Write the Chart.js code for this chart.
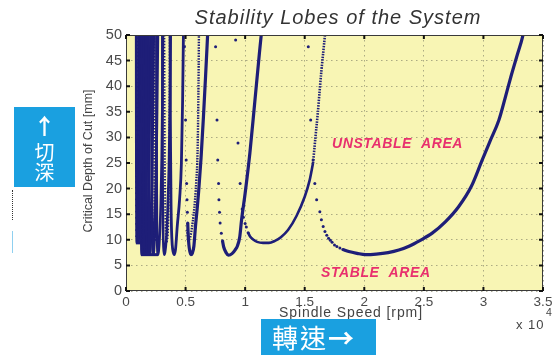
<!DOCTYPE html>
<html><head><meta charset="utf-8">
<script src="https://cdn.jsdelivr.net/npm/chart.js@4.4.1/dist/chart.umd.min.js"></script>
<style>
html,body{margin:0;padding:0;background:#fff;}
#wrap{position:relative;width:557px;height:360px;overflow:hidden;font-family:'Liberation Sans',Arial,sans-serif;}
#c{position:absolute;left:0;top:0;}
.t{position:absolute;white-space:nowrap;line-height:1;}
.box{position:absolute;background:#1aa0e0;color:#fff;font-family:'Noto Sans CJK TC','Noto Sans CJK SC',sans-serif;}
</style></head><body>
<div id="wrap">
<canvas id="c" width="557" height="360"></canvas>
<div class="t" id="title" style="left:338px;top:7px;transform:translateX(-50%);font-style:italic;font-size:20px;letter-spacing:1px;color:#333;">Stability Lobes of the System</div>
<div class="t" style="left:351px;top:305px;transform:translateX(-50%);font-size:14px;letter-spacing:0.9px;color:#444;">Spindle Speed [rpm]</div>
<div class="t" style="left:87.5px;top:160.5px;transform:translate(-50%,-50%) rotate(-90deg);font-size:12.5px;color:#444;">Critical Depth of Cut [mm]</div>
<div class="t" style="left:516px;top:318px;font-size:13px;letter-spacing:1px;color:#444;">x 10</div>
<div class="t" style="left:546px;top:307px;font-size:10.5px;color:#444;">4</div>
<div class="t" style="left:332px;top:136px;font-size:14px;font-weight:bold;font-style:italic;letter-spacing:0.6px;color:#e8306e;">UNSTABLE&nbsp;&nbsp;AREA</div>
<div class="t" style="left:321px;top:265px;font-size:14px;font-weight:bold;font-style:italic;letter-spacing:0.6px;color:#e8306e;">STABLE&nbsp;&nbsp;AREA</div>
<div class="box" style="left:14px;top:107px;width:61px;height:80px;">
  <div class="t" style="left:0;width:61px;text-align:center;top:6px;font-size:22px;font-weight:bold;">↑</div>
  <div class="t" style="left:0;width:61px;text-align:center;top:35px;font-size:20px;">切</div>
  <div class="t" style="left:0;width:61px;text-align:center;top:55px;font-size:20px;">深</div>
</div>
<div class="box" style="left:261px;top:319px;width:115px;height:36px;">
  <div class="t" style="left:11px;top:5px;font-size:26px;letter-spacing:2px;">轉速<b>→</b></div>
</div>
<div style="position:absolute;left:12px;top:190px;width:0;height:30px;border-left:1px dotted #333;"></div>
<div style="position:absolute;left:12px;top:231px;width:1px;height:22px;background:#8fd0f0;"></div>
</div>
<script>
// ---- data (x in units of 10^4 rpm, y in mm) ----
const xTicks = [0, 0.5, 1, 1.5, 2, 2.5, 3, 3.5];
const yTicks = [0, 5, 10, 15, 20, 25, 30, 35, 40, 45, 50];

// lobe k=0 (mode A)
const lobeA1Dots = [[1.53,47.7],[1.55,33.4],[1.57,25.6],[1.585,21],[1.6,17.8],[1.627,15.5],[1.64,13.9],[1.655,12.6],[1.67,11.6],[1.685,10.9],[1.7,10.3],[1.715,9.9],[1.73,9.5],[1.75,9.0],[1.77,8.7],[1.795,8.4],[1.82,8.1]];
const lobeA1Line = [[1.82,8.1],[1.87,7.7],[1.94,7.35],[2.01,7.1],[2.1,7.2],[2.2,7.5],[2.29,8.0],[2.38,8.8],[2.47,9.9],[2.57,11.3],[2.68,13.5],[2.79,16.4],[2.9,20.5],[2.99,25.6],[3.06,29.5],[3.13,33.4],[3.18,37.5],[3.23,41.8],[3.28,45.8],[3.33,49.8],[3.34,51]];
// lobe k=0 (mode B)
const lobeB1Dots = [[0.92,49],[0.94,28.9],[0.958,21],[0.975,16],[0.985,14.4],[1.0,13.2],[1.01,12.5],[1.025,11.4]];
const lobeB1Line = [[1.025,11.4],[1.04,10.7],[1.07,10.0],[1.1,9.6],[1.15,9.4],[1.2,9.4],[1.25,9.8],[1.3,10.5],[1.36,11.9],[1.43,14.6],[1.5,18.4],[1.54,21.5],[1.57,25]];
const lobeB1Dense = [[1.57,25],[1.59,30],[1.61,34.8],[1.625,39],[1.64,43],[1.655,46.5],[1.67,50]];
// lobe k=1 (mode A)
const lobeA2Dots = [[0.752,47.7],[0.764,33.4],[0.77,25.6],[0.777,21],[0.78,17.8],[0.785,15.4],[0.79,13.3],[0.8,11.3],[0.81,9.8]];
const lobeA2Line = [[0.81,9.8],[0.82,8.6],[0.84,7.5],[0.86,7.0],[0.89,7.3],[0.915,8.0],[0.935,8.8],[0.955,10.6],[0.97,13.9],[1.0,19.1],[1.04,27],[1.08,36.7],[1.12,46.5],[1.135,50]];
// lobe k=2 (mode A)
const lobeA3Dots = [[0.49,47.7],[0.5,33.4],[0.505,25.6],[0.509,21],[0.512,17.8],[0.515,15.4],[0.518,13.3]];
const lobeA3Line = [[0.518,13.3],[0.522,11],[0.528,9],[0.535,7.8],[0.545,7.1],[0.557,7.4],[0.57,8.8],[0.583,12.6],[0.597,16],[0.61,19.5],[0.63,26],[0.65,34],[0.668,42],[0.685,50]];
// lobe k=1 (mode B)
const lobeB2Dense = [[0.515,12],[0.52,10.4],[0.528,10],[0.54,10.6],[0.553,12.3],[0.567,14.8],[0.58,18],[0.59,21.5],[0.598,25],[0.603,30],[0.607,37],[0.61,44],[0.612,50]];
// higher lobes
const lobeA4 = [[0.37,50],[0.372,35],[0.375,25],[0.378,17],[0.382,12],[0.388,9],[0.396,7.6],[0.405,7.1],[0.416,8.2],[0.43,12.6],[0.45,18],[0.465,25],[0.475,37],[0.482,50]];
const lobeB3 = [[0.322,50],[0.324,35],[0.327,22],[0.331,14],[0.336,10.5],[0.342,9.6],[0.348,10.2],[0.354,12.5],[0.358,17],[0.362,26],[0.365,38],[0.367,50]];
const lobeA5 = [[0.305,50],[0.306,32],[0.308,19],[0.311,12],[0.315,8.5],[0.321,7.1],[0.328,7.6],[0.338,10],[0.35,16],[0.361,25],[0.369,37],[0.375,50]];
const lobeA6 = [[0.255,50],[0.256,32],[0.258,19],[0.26,12],[0.263,8.5],[0.268,7.1],[0.274,7.8],[0.282,10.5],[0.292,17],[0.3,26],[0.306,38],[0.31,50]];
const lobeB4 = [[0.236,50],[0.238,30],[0.24,17],[0.243,11],[0.246,9.7],[0.25,10.5],[0.254,15],[0.257,25],[0.26,50]];
const lobeA7 = [[0.216,50],[0.217,28],[0.219,16],[0.222,10],[0.226,7.6],[0.229,7.1],[0.234,8],[0.242,12],[0.252,22],[0.26,35],[0.267,50]];
const lobeA8 = [[0.188,50],[0.189,28],[0.191,15],[0.194,9.5],[0.198,7.1],[0.203,8],[0.21,12],[0.218,22],[0.225,35],[0.232,50]];
const lobeA9 = [[0.166,50],[0.167,25],[0.17,12],[0.175,7.1],[0.18,8.5],[0.188,14],[0.196,28],[0.205,50]];
const lobeA10 = [[0.149,50],[0.15,25],[0.152,12],[0.157,7.1],[0.161,8.5],[0.168,14],[0.176,28],[0.184,50]];
const lobeA11 = [[0.135,50],[0.136,25],[0.138,12],[0.142,7.1],[0.146,8.5],[0.152,14],[0.159,28],[0.166,50]];
const lobeA12 = [[0.124,50],[0.125,25],[0.127,12],[0.13,7.1],[0.134,8.5],[0.139,14],[0.145,28],[0.152,50]];
const lobeC1 = [[0.112,50],[0.113,25],[0.115,12],[0.118,9.4],[0.122,10],[0.127,15],[0.133,28],[0.14,50]];
const lobeC2 = [[0.1,50],[0.101,25],[0.103,12],[0.106,9.4],[0.11,10],[0.115,15],[0.12,28],[0.127,50]];
const lobeC3 = [[0.09,50],[0.091,25],[0.093,12],[0.096,9.4],[0.099,10],[0.103,15],[0.108,28],[0.115,50]];
const lobeC4 = [[0.082,50],[0.083,25],[0.085,12],[0.088,9.4],[0.09,10],[0.094,15],[0.099,28],[0.105,50]];
const bottomEdgeA = [[0.125,7.1],[0.27,7.1]];
const bottomEdgeC = [[0.083,9.4],[0.125,9.4]];
const ladderX = 0.12;
const ladderY = [49.4,48.7,48.0,47.3,46.6,45.9,45.2,44.5,43.7,43.0,42.2,41.4,40.7,39.9,39.1,38.3,37.5,36.7,35.8,35.0,34.1,33.2,32.3,31.4,30.5,29.6,28.6,27.6,26.6,25.6,24.6,23.5,22.4,21.3,20.2,19.1,17.9,16.7,15.5,14.3,13.1,11.9,10.7];

// ---- styling ----
const NAVY = '#1e1e78';
const BG = '#f8f5b4';
const pts = a => a.map(p => ({x:p[0], y:p[1]}));
const line = (a, w, dash) => ({data:pts(a), showLine:true, borderColor:NAVY, borderWidth:w, borderDash:dash||[], pointRadius:0, cubicInterpolationMode:'monotone', clip:0, borderCapStyle:'butt'});
const dots = (a, r) => ({data:pts(a), showLine:false, pointRadius:r, pointBackgroundColor:NAVY, pointBorderWidth:0, clip:0});

const datasets = [
  line(lobeA1Line, 3.2), dots(lobeA1Dots, 1.5),
  line(lobeB1Line, 2.6), line(lobeB1Dense, 2.6, [1.5,1.2]), dots(lobeB1Dots, 1.5),
  line(lobeA2Line, 3.2), dots(lobeA2Dots, 1.5),
  line(lobeA3Line, 3.2), dots(lobeA3Dots, 1.5),
  line(lobeB2Dense, 2.4, [1.5,1.2]),
  line(lobeA4, 2.8), line(lobeB3, 2, [1.5,1.5]), line(lobeA5, 2.6), line(lobeA6, 2.6), line(lobeB4, 2.2, [1.5,1.5]),
  line(lobeA7, 2.8), line(lobeA8, 2.8), line(lobeA9, 2.6), line(lobeA10, 2.6), line(lobeA11, 2.4), line(lobeA12, 2.4),
  line(lobeC1, 1.5), line(lobeC2, 1.5), line(lobeC3, 1.5), line(lobeC4, 1.8),
  line(bottomEdgeA, 3), line(bottomEdgeC, 3),
  {data: ladderY.map(y => ({x:ladderX, y})), showLine:false, pointStyle:'line', pointRadius:5, pointBorderColor:NAVY, pointBorderWidth:1.5, clip:0}
];

const frame = {
  id:'frame',
  beforeDraw(c){ const {ctx, chartArea:a} = c; ctx.save(); ctx.fillStyle = BG; ctx.fillRect(a.left, a.top, a.right-a.left, a.bottom-a.top); ctx.restore(); },
  afterDraw(c){
    const {ctx, chartArea:a, scales:{x, y}} = c;
    ctx.save();
    ctx.strokeStyle = '#3a3a3a'; ctx.lineWidth = 1;
    ctx.strokeRect(a.left+0.5, a.top+0.5, a.right-a.left-1, a.bottom-a.top-1);
    ctx.strokeStyle = '#111'; ctx.lineWidth = 2;
    ctx.beginPath();
    xTicks.forEach(v => { const px = x.getPixelForValue(v); ctx.moveTo(px, a.bottom); ctx.lineTo(px, a.bottom-4); ctx.moveTo(px, a.top); ctx.lineTo(px, a.top+4); });
    yTicks.forEach(v => { const py = y.getPixelForValue(v); ctx.moveTo(a.left, py); ctx.lineTo(a.left+4, py); ctx.moveTo(a.right, py); ctx.lineTo(a.right-4, py); });
    ctx.stroke();
    ctx.restore();
  }
};

const FONT = "'Liberation Sans', Arial, sans-serif";
new Chart(document.getElementById('c'), {
  type:'scatter',
  data:{datasets},
  options:{
    responsive:false, animation:false, devicePixelRatio:1,
    layout:{padding:{left:0, right:14, top:35, bottom:0}},
    plugins:{legend:{display:false}, tooltip:{enabled:false}},
    scales:{
      x:{type:'linear', min:0, max:3.5,
         afterBuildTicks:s => { s.ticks = xTicks.map(v => ({value:v})); },
         ticks:{padding:3, color:'#4a4a4a', font:{family:FONT, size:13.5}, maxRotation:0, autoSkip:false, callback:v => String(v)},
         grid:{color:'rgba(140,140,110,0.7)', lineWidth:1, drawTicks:false},
         border:{display:false, dash:[1.5,3.5]},
         afterFit:s => { s.height = 69; }},
      y:{type:'linear', min:0, max:50,
         afterBuildTicks:s => { s.ticks = yTicks.map(v => ({value:v})); },
         ticks:{padding:4, color:'#4a4a4a', font:{family:FONT, size:14.5}, autoSkip:false, callback:v => String(v)},
         grid:{color:'rgba(140,140,110,0.7)', lineWidth:1, drawTicks:false},
         border:{display:false, dash:[1.5,3.5]},
         afterFit:s => { s.width = 126; }}
    }
  },
  plugins:[frame]
});
</script>
</body></html>
